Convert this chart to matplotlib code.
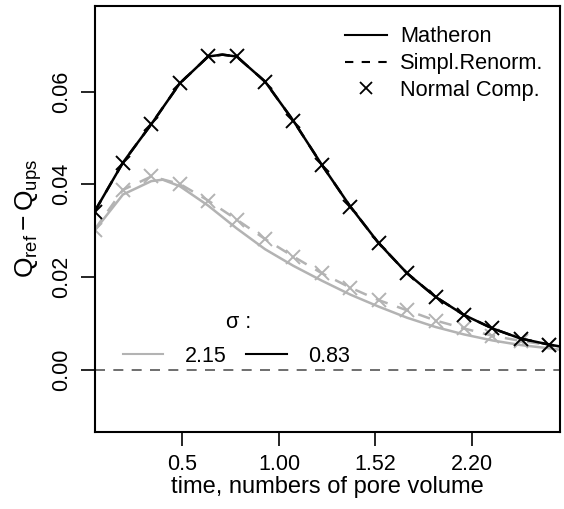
import matplotlib
matplotlib.use("Agg")
import matplotlib.pyplot as plt
from matplotlib.lines import Line2D

plt.rcParams["font.family"] = ["Liberation Sans", "DejaVu Sans"]
plt.rcParams["mathtext.fontset"] = "custom"
plt.rcParams["mathtext.rm"] = "Liberation Sans"
plt.rcParams["mathtext.it"] = "Liberation Sans"

# sample index along the time axis (markers are drawn at every index)
step = list(range(17))
x_end = 16.38

# sigma = 0.83 (black): all three methods overlap
black_mark = [0.0341, 0.0447, 0.0530, 0.0618, 0.0676, 0.0676, 0.0622, 0.0537, 0.0442,
              0.0352, 0.0273, 0.0208, 0.0157, 0.0118, 0.0089, 0.0067, 0.0054]
black_x = [0, 1, 2, 3, 4, 4.5, 5, 6, 7, 8, 9, 10, 11, 12, 13, 14, 15, 16, x_end]
black_line = [0.0341, 0.0447, 0.0530, 0.0618, 0.0676, 0.0680, 0.0676, 0.0622, 0.0537, 0.0442,
              0.0352, 0.0273, 0.0208, 0.0157, 0.0118, 0.0089, 0.0067, 0.0054, 0.0050]

# sigma = 2.15 (gray)
gray_x = [0, 1, 2, 2.4, 3, 4, 5, 6, 7, 8, 9, 10, 11, 12, 13, 14, 15, 16, x_end]
gray_matheron = [0.0300, 0.0378, 0.0407, 0.0410, 0.0396, 0.0354, 0.0305, 0.0260, 0.0224, 0.0192,
                 0.0162, 0.0136, 0.0112, 0.0092, 0.0076, 0.0063, 0.0053, 0.0046, 0.0043]
gray_renorm = [0.0302, 0.0388, 0.0417, 0.0401, 0.0365, 0.0324, 0.0282, 0.0244, 0.0208,
               0.0177, 0.0150, 0.0128, 0.0106, 0.0089, 0.0073, 0.0062, 0.0053]
gray_renorm_x = step + [x_end]
gray_renorm_line = gray_renorm + [0.0050]
gray_mark = gray_renorm

tick_pos = [3.07, 6.49, 9.87, 13.29]
tick_labels = ["0.5", "1.00", "1.52", "2.20"]
y_ticks = [0.00, 0.02, 0.04, 0.06]

GRAY = "#b3b3b3"
FS = 15.5

fig = plt.figure(figsize=(5.64, 5.09), dpi=100)
ax = fig.add_axes([0.1676, 0.1519, 0.8253, 0.8363])

ax.axhline(0, color="#555555", lw=1.2, ls=(0, (6, 5)))

ax.plot(gray_x, gray_matheron, color=GRAY, lw=1.8)
ax.plot(gray_renorm_x, gray_renorm_line, color=GRAY, lw=1.8, ls=(0, (5, 4)))
ax.plot(step, gray_mark, ls="none", marker="x", ms=9.5, mew=1.4, color=GRAY)

ax.plot(black_x, black_line, color="black", lw=1.8)
ax.plot(black_x, black_line, color="black", lw=1.8, ls=(0, (5, 4)))
ax.plot(step, black_mark, ls="none", marker="x", ms=9.5, mew=1.4, color="black")

ax.set_xlim(0, x_end)
ax.set_ylim(-0.0134, 0.0785)
ax.set_xticks(tick_pos)
ax.set_xticklabels(tick_labels)
ax.set_yticks(y_ticks)
ax.set_yticklabels(["%.2f" % v for v in y_ticks], rotation=90, va="center")
ax.tick_params(axis="both", length=10, width=1.2, labelsize=FS, pad=6)
for s in ax.spines.values():
    s.set_linewidth(1.5)

ax.set_xlabel("time, numbers of pore volume", fontsize=17, labelpad=1)
ax.set_ylabel(r"$\mathrm{Q_{ref} - Q_{ups}}$", fontsize=19, labelpad=5)

method_handles = [
    Line2D([], [], color="black", lw=1.5),
    Line2D([], [], color="black", lw=1.5, ls=(0, (4, 4))),
    Line2D([], [], color="black", ls="none", marker="x", ms=8, mew=1.3),
]
leg1 = ax.legend(method_handles, ["Matheron", "Simpl.Renorm.", "Normal Comp."],
                 loc="upper right", bbox_to_anchor=(0.993, 0.983), borderaxespad=0.2,
                 frameon=False, fontsize=15.7, handlelength=1.95, handletextpad=0.6,
                 labelspacing=0.27)
ax.add_artist(leg1)

sigma_handles = [
    Line2D([], [], color=GRAY, lw=1.5),
    Line2D([], [], color="black", lw=1.5),
]
leg2 = ax.legend(sigma_handles, ["2.15", "0.83"], ncol=2, title="σ :",
                 loc="center", bbox_to_anchor=(0.305, 0.21), frameon=False,
                 fontsize=FS, title_fontsize=FS, handlelength=1.9,
                 handletextpad=1.0, columnspacing=0.9, labelspacing=0.3)
leg2.get_title().set_position((2, 6))

fig.savefig("out.png", dpi=100)
